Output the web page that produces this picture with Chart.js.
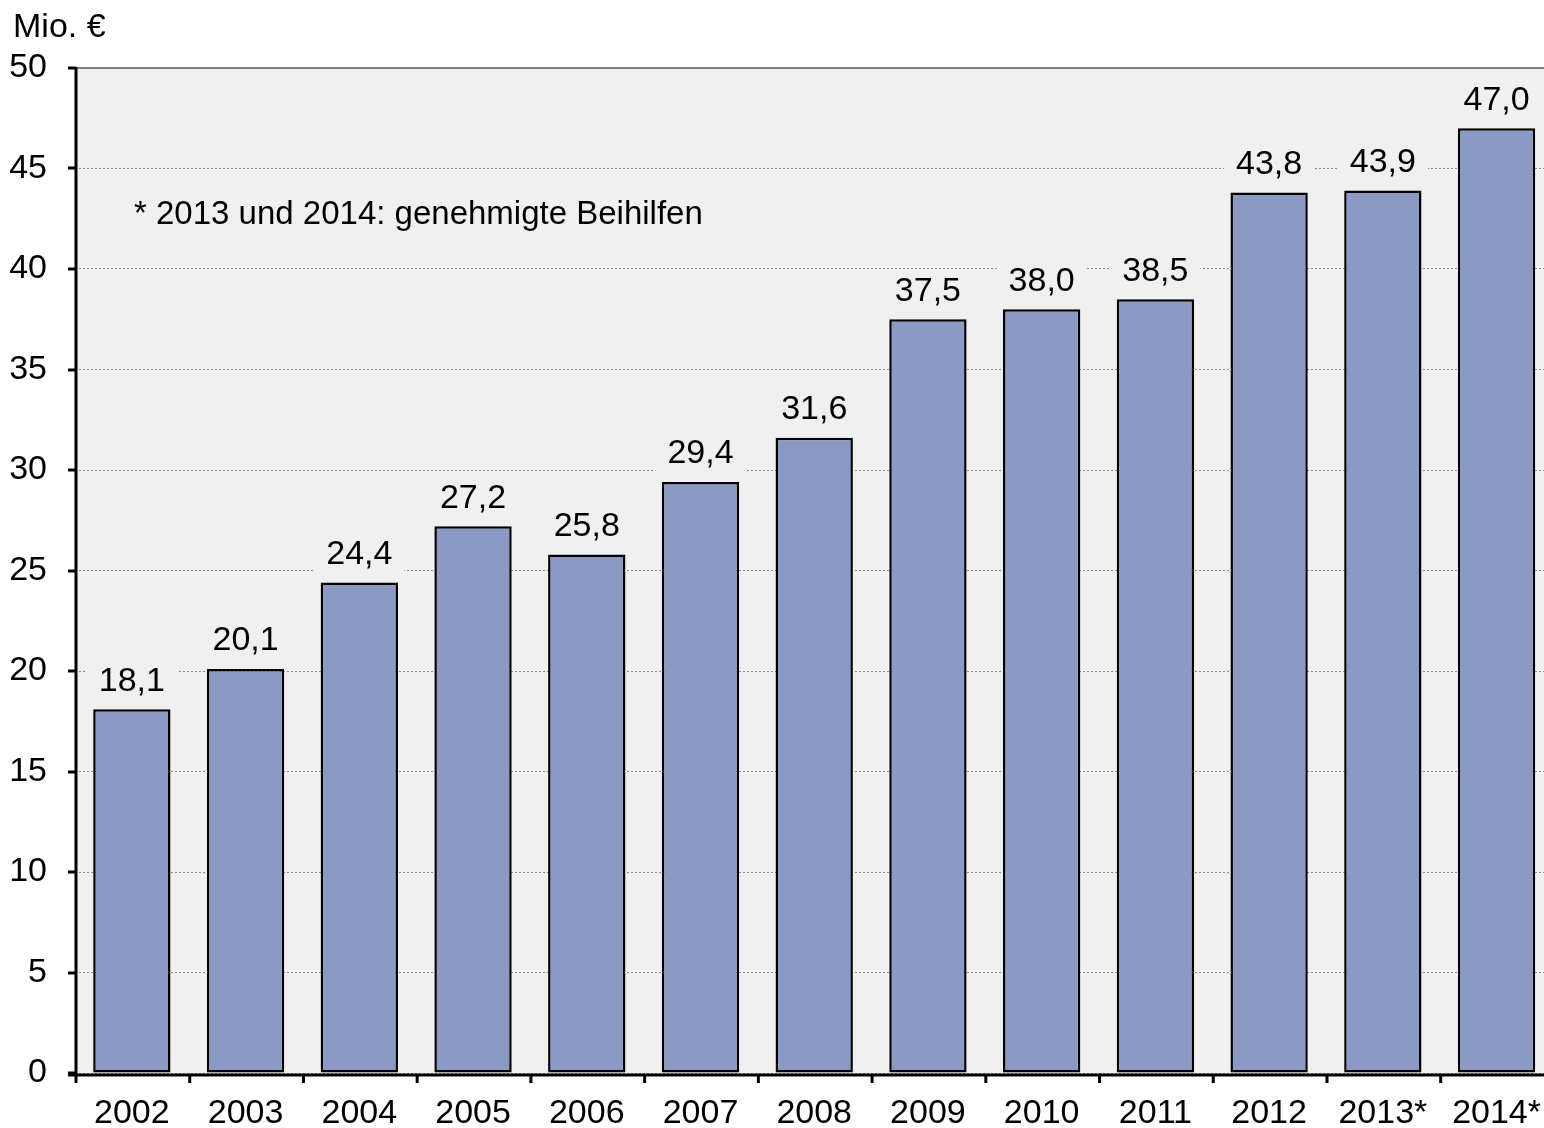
<!DOCTYPE html>
<html>
<head>
<meta charset="utf-8">
<script src="https://cdn.jsdelivr.net/npm/chart.js@4/dist/chart.umd.min.js"></script>
<style>
html,body{margin:0;padding:0;background:#fff;overflow:hidden;}
#wrap{width:1544px;height:1128px;position:relative;overflow:hidden;}
</style>
</head>
<body>
<div id="wrap"><canvas id="c" width="1561" height="1128" style="width:1561px;height:1128px;"></canvas></div>
<script>
const categories = ['2002','2003','2004','2005','2006','2007','2008','2009','2010','2011','2012','2013*','2014*'];
const values = [18.1, 20.1, 24.4, 27.2, 25.8, 29.4, 31.6, 37.5, 38.0, 38.5, 43.8, 43.9, 47.0];
const yTicks = [0,5,10,15,20,25,30,35,40,45,50];
const unitLabel = 'Mio. €';
const noteText = '* 2013 und 2014: genehmigte Beihilfen';

const FONT = '"Liberation Sans", Arial, sans-serif';
const PLOT_BG = '#f0f0f0';

const fmt = v => v.toFixed(1).replace('.', ',');

const bgPlugin = {
  id: 'bgPlugin',
  beforeDraw(chart) {
    const {ctx, chartArea: a} = chart;
    ctx.save();
    ctx.fillStyle = PLOT_BG;
    ctx.fillRect(a.left, a.top, a.right - a.left, a.bottom - a.top);
    ctx.restore();
  },
  afterDatasetsDraw(chart) {
    const {ctx, chartArea: a, scales} = chart;
    const meta = chart.getDatasetMeta(0);
    ctx.save();
    ctx.font = '34px ' + FONT;
    ctx.textAlign = 'center';
    ctx.textBaseline = 'middle';
    meta.data.forEach((bar, i) => {
      const t = fmt(values[i]);
      const w = ctx.measureText(t).width;
      const cy = bar.y - 29;
      ctx.fillStyle = PLOT_BG;
      ctx.fillRect(bar.x - w / 2 - 12, cy - 18, w + 24, 36);
      ctx.fillStyle = '#000';
      ctx.fillText(t, bar.x, cy + 1);
    });
    // note
    ctx.textAlign = 'left';
    ctx.font = '33px ' + FONT;
    ctx.fillText(noteText, 134, 215);
    // unit label
    ctx.font = '34px ' + FONT;
    ctx.fillText(unitLabel, 13, 28);
    // top border
    ctx.strokeStyle = '#808080';
    ctx.lineWidth = 2;
    ctx.beginPath();
    ctx.moveTo(a.left, a.top);
    ctx.lineTo(a.right, a.top);
    ctx.stroke();
    // axes
    ctx.strokeStyle = '#000';
    ctx.lineWidth = 3;
    ctx.beginPath();
    ctx.moveTo(a.left + 1, a.top - 1);
    ctx.lineTo(a.left + 1, a.bottom + 2);
    ctx.moveTo(a.left - 7, a.bottom + 2);
    ctx.lineTo(a.right, a.bottom + 2);
    ctx.stroke();
    // y ticks
    const ys = scales.y;
    ctx.beginPath();
    yTicks.forEach(v => {
      const y = Math.round(ys.getPixelForValue(v));
      ctx.moveTo(a.left - 7, y);
      ctx.lineTo(a.left + 1, y);
    });
    ctx.stroke();
    // x ticks at category boundaries
    const step = (a.right - a.left) / categories.length;
    ctx.beginPath();
    for (let i = 0; i <= categories.length; i++) {
      const x = a.left + 1 + i * step;
      ctx.moveTo(x, a.bottom + 2);
      ctx.lineTo(x, a.bottom + 10);
    }
    ctx.stroke();
    ctx.restore();
  }
};

new Chart(document.getElementById('c'), {
  type: 'bar',
  data: {
    labels: categories,
    datasets: [{
      data: values,
      backgroundColor: '#8a9ac5',
      borderColor: '#000',
      borderWidth: 2.5,
      borderSkipped: false,
      barPercentage: 0.68,
      categoryPercentage: 1.0
    }]
  },
  options: {
    responsive: false,
    animation: false,
    layout: { padding: { top: 68, right: 0, left: 0, bottom: 0 } },
    plugins: { legend: { display: false }, tooltip: { enabled: false } },
    scales: {
      x: {
        grid: { display: false, drawTicks: false },
        border: { display: false },
        ticks: { color: '#000', font: { family: FONT, size: 34 }, padding: 20, maxRotation: 0, autoSkip: false },
        afterFit(s) { s.height = 1128 - 1073; }
      },
      y: {
        min: 0, max: 50,
        afterBuildTicks(s) { s.ticks = yTicks.map(v => ({ value: v })); },
        grid: { color: '#8c8c8c', lineWidth: 1, drawTicks: false },
        border: { display: false, dash: [2, 2] },
        ticks: { color: '#000', font: { family: FONT, size: 34 }, padding: 28 },
        afterFit(s) { s.width = 75; }
      }
    }
  },
  plugins: [bgPlugin]
});
</script>
</body>
</html>
